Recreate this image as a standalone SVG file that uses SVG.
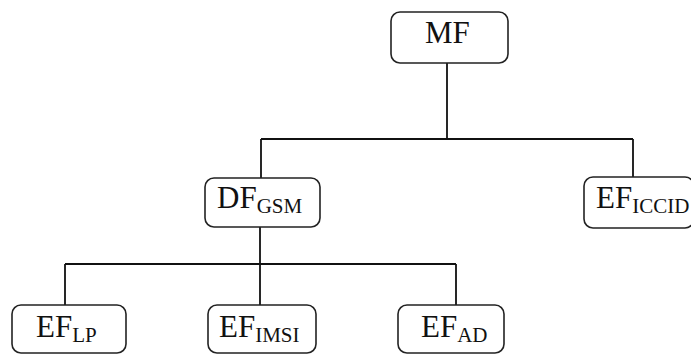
<svg xmlns="http://www.w3.org/2000/svg" width="691" height="354" viewBox="0 0 691 354">
<style>
.box{fill:#fff;stroke:#222;stroke-width:1.6}
.lbl{font-family:"Liberation Serif","Times New Roman",serif;font-size:31px;fill:#111}
.sub{font-size:21px}
.conn{fill:none;stroke:#111;stroke-width:1.8}
</style>
<g id="connectors">
<path class="conn" d="M447 63 V139 M261 139 H633 M261 139 V178 M633 139 V178"/>
<path class="conn" d="M260 227 V264 M65 264 H456 M65 264 V305 M260 264 V305 M456 264 V305"/>
</g>
<g id="MF"><rect class="box" x="391" y="12" width="117" height="51" rx="9"/><text class="lbl" x="425" y="43">MF</text></g>
<g id="DF_GSM"><rect class="box" x="205" y="178" width="115" height="49" rx="9"/><text class="lbl" x="217" y="208">DF<tspan class="sub" dy="5">GSM</tspan></text></g>
<g id="EF_ICCID"><rect class="box" x="584" y="177" width="110" height="51" rx="9"/><text class="lbl" x="596" y="208">EF<tspan class="sub" dy="5">ICCID</tspan></text></g>
<g id="EF_LP"><rect class="box" x="12" y="305" width="114" height="48" rx="9"/><text class="lbl" x="36" y="337">EF<tspan class="sub" dy="5">LP</tspan></text></g>
<g id="EF_IMSI"><rect class="box" x="208" y="305" width="108" height="48" rx="9"/><text class="lbl" x="219" y="337">EF<tspan class="sub" dy="5">IMSI</tspan></text></g>
<g id="EF_AD"><rect class="box" x="398" y="305" width="106" height="48" rx="9"/><text class="lbl" x="421" y="337">EF<tspan class="sub" dy="5">AD</tspan></text></g>
</svg>
